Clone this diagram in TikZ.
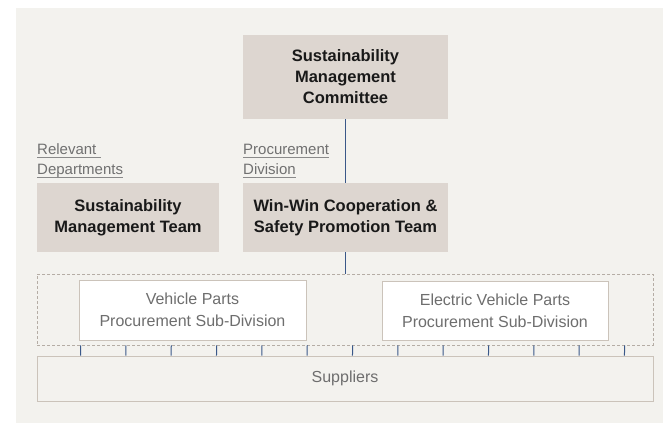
\documentclass[tikz,border=0pt]{standalone}
\usepackage{fontspec}
\setmainfont{Liberation Sans}
\usetikzlibrary{calc}
\definecolor{bg}{HTML}{F3F2EE}
\definecolor{boxfill}{HTML}{DDD6D0}
\definecolor{edgec}{HTML}{CBC3BA}
\definecolor{dashc}{HTML}{B5ADA5}
\definecolor{linkc}{HTML}{3A5888}
\definecolor{graytxt}{HTML}{6E6E6E}
\definecolor{labtxt}{HTML}{707070}
\definecolor{ulc}{HTML}{8A8A8A}
\begin{document}
\begin{tikzpicture}[x=1pt,y=-1pt,
  darkbox/.style={fill=boxfill, draw=none, align=center, font=\fontsize{16.5}{21}\selectfont\bfseries, text=black!90, inner sep=0pt},
  lightbox/.style={fill=white, draw=edgec, line width=1pt, align=center, font=\fontsize{16}{22}\selectfont, text=graytxt, inner sep=0pt},
  lab/.style={anchor=base west, inner sep=0pt, font=\fontsize{15}{20}\selectfont, text=labtxt},
  ulline/.style={draw=ulc, line width=0.8pt},
  linkline/.style={draw=linkc, line width=1pt},
]
\useasboundingbox (0,0) rectangle (663,423);
\fill[white] (0,0) rectangle (663,423);
\fill[bg] (16,8) rectangle (663,423);

% top box
\node[darkbox, minimum width=205pt, minimum height=84pt] (comm) at (345.5,77)
  {Sustainability\\Management\\Committee};
\node[darkbox, minimum width=182pt, minimum height=69pt] (smt) at (128,217.5)
  {Sustainability\\Management Team};
\node[darkbox, minimum width=205pt, minimum height=69pt] (win) at (345.5,217.5)
  {Win-Win Cooperation \&\\Safety Promotion Team};

% labels
\node[lab] (l1) at (37,154) {Relevant};
\node[lab] (l2) at (37,174) {Departments};
\node[lab] (l3) at (243,154) {Procurement};
\node[lab] (l4) at (243,174) {Division};
\draw[ulline] ([yshift=-3.5pt]l1.base west) -- ([xshift=4pt,yshift=-3.5pt]l1.base east);
\draw[ulline] ([yshift=-3.5pt]l2.base west) -- ([yshift=-3.5pt]l2.base east);
\draw[ulline] ([yshift=-3.5pt]l3.base west) -- ([yshift=-3.5pt]l3.base east);
\draw[ulline] ([yshift=-3.5pt]l4.base west) -- ([yshift=-3.5pt]l4.base east);

% dashed group
\node[draw=dashc, line width=0.8pt, dash pattern=on 3pt off 2pt, minimum width=616pt, minimum height=71pt, inner sep=0pt] (grp) at (345,309.5) {};
\node[lightbox, minimum width=227pt, minimum height=60pt] (vp) at (192.5,310)
  {Vehicle Parts\\Procurement Sub-Division};
\node[lightbox, minimum width=226pt, minimum height=59pt] (evp) at (495,310.5)
  {Electric Vehicle Parts\\Procurement Sub-Division};

% suppliers
\node[draw=edgec, line width=1pt, fill=bg, minimum width=616pt, minimum height=45pt, inner sep=0pt, font=\fontsize{16}{22}\selectfont, text=graytxt] (sup) at (345,378.5) {Suppliers};

% links
\draw[linkline] (comm.south) -- (win.north);
\draw[linkline] (win.south) -- (win.south |- grp.north);
\foreach \k in {0,...,12} {
  \draw[linkline] ([xshift={44+45.33*\k}]grp.south west) -- ([xshift={44+45.33*\k}]sup.north west);
}
\end{tikzpicture}
\end{document}
